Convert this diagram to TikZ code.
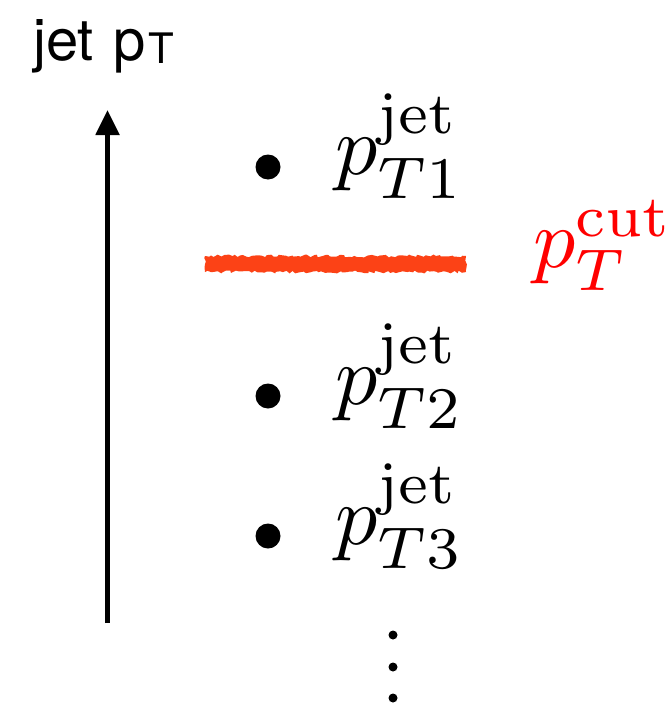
\documentclass[tikz,border=0pt]{standalone}
\usepackage[no-math]{fontspec}
\usepackage{amsmath}
\usepackage{tikz}
\usetikzlibrary{arrows.meta,decorations.pathmorphing}
\newfontfamily\helv{TeX Gyre Heros}
% scalable cm math fonts, with the usual design sizes
\DeclareFontFamily{OT1}{cmr}{\hyphenchar\font45}
\DeclareFontShape{OT1}{cmr}{m}{n}{<-50>cmr5<50-70>cmr7<70->cmr10}{}
\DeclareFontFamily{OML}{cmm}{\skewchar\font127}
\DeclareFontShape{OML}{cmm}{m}{it}{<-50>cmmi5<50-70>cmmi7<70->cmmi10}{}
\DeclareFontFamily{OMS}{cmsy}{\skewchar\font48}
\DeclareFontShape{OMS}{cmsy}{m}{n}{<-50>cmsy5<50-70>cmsy7<70->cmsy10}{}
\DeclareFontFamily{OMX}{cmex}{}
\DeclareFontShape{OMX}{cmex}{m}{n}{<->cmex10}{}
\DeclareMathSizes{84}{84}{59}{42}
\definecolor{cutred}{RGB}{252,66,22}

\begin{document}
\begin{tikzpicture}[x=1pt,y=-1pt,
  jetdot/.style={circle,fill=black,inner sep=0pt,minimum size=25pt},
  jetlabel/.style={anchor=base west,inner sep=0pt,font=\fontsize{84}{96}\selectfont},
  axisarrow/.style={line width=5pt,-{Triangle[length=25pt,width=23pt]}}]
\useasboundingbox (0,0) rectangle (670,704);
% axis
\coordinate (axbot) at (107.5,623);
\coordinate (axtop) at (107.5,110);
\draw[axisarrow] (axbot) -- (axtop);
\node[anchor=base west,inner sep=0pt,font=\helv\fontsize{58}{64}\selectfont] (axlabel) at (33,60)
  {jet\hspace{4pt} p\hspace{2pt}\raisebox{-3pt}{\fontsize{42}{42}\selectfont T}};
% jets
\node[jetdot] (d1) at (268,167) {};
\node[jetdot] (d2) at (268,396) {};
\node[jetdot] (d3) at (268,536) {};
\node[jetlabel] (j1) at (335,174) {$p^{\mathrm{jet}}_{T1}$};
\node[jetlabel] (j2) at (335,404) {$p^{\mathrm{jet}}_{T2}$};
\node[jetlabel] (j3) at (335,544) {$p^{\mathrm{jet}}_{T3}$};
% cut
\fill[cutred,decorate,decoration={random steps,segment length=3pt,amplitude=1.5pt}]
  (205,256) rectangle (466,272);
\node[jetlabel,text=red] (cut) at (533,267) {$p^{\mathrm{cut}}_{T}$};
% more jets
\fill (393,635) circle (4.5);
\fill (393,667) circle (4.5);
\fill (393,698) circle (4.5);
\end{tikzpicture}
\end{document}
